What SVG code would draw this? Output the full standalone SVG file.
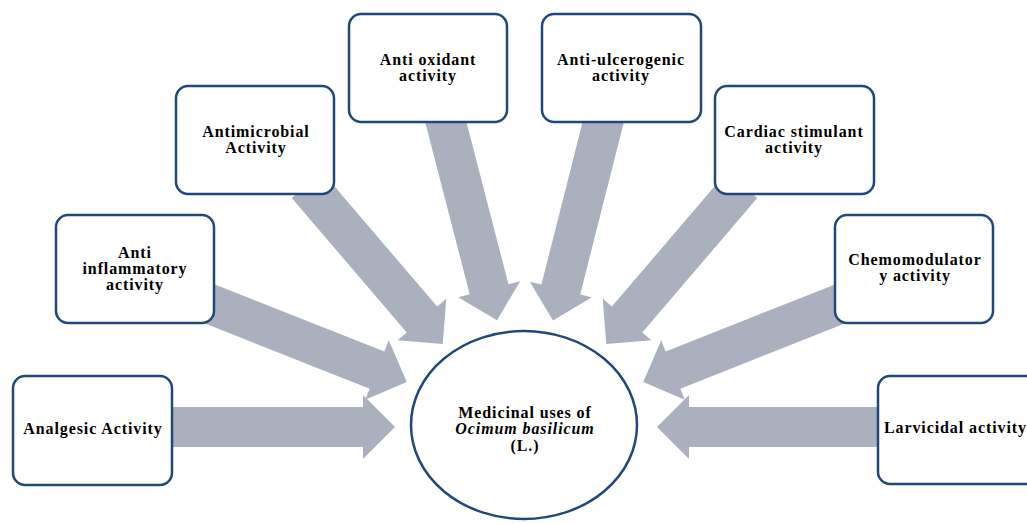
<svg xmlns="http://www.w3.org/2000/svg" width="1027" height="524" viewBox="0 0 1027 524">
<style>
.box{fill:#fff;stroke:#1f497d;stroke-width:2.5}
.arr{fill:#abb0be}
text{font-family:"Liberation Serif","Times New Roman","DejaVu Serif",serif;font-weight:bold;font-size:16px;letter-spacing:0.9px;fill:#000;text-anchor:middle}
.it{font-style:italic}
</style>
<defs>
<path id="a230" d="M0,-20 H198 V-32 L230,0 L198,32 V20 H0 Z"/>
<path id="a228" d="M0,-20 H196 V-32 L228,0 L196,32 V20 H0 Z"/>
<path id="a217" d="M0,-20 H185 V-32 L217,0 L185,32 V20 H0 Z"/>
<path id="a209" d="M0,-20 H177 V-32 L209,0 L177,32 V20 H0 Z"/>
<path id="a212" d="M0,-20 H180 V-32 L212,0 L180,32 V20 H0 Z"/>
</defs>
<rect width="1027" height="524" fill="#fff"/>
<g id="connectors" class="arr">
<use href="#a230" transform="translate(165,427)"/>
<use href="#a228" transform="translate(885,427) rotate(180)"/>
<use href="#a217" transform="translate(205,302) rotate(21.6)"/>
<use href="#a217" transform="translate(845,302) rotate(158.4)"/>
<use href="#a209" transform="translate(307,185) rotate(49.5)"/>
<use href="#a209" transform="translate(742,185) rotate(130.5)"/>
<use href="#a212" transform="translate(444,115) rotate(75.5)"/>
<use href="#a212" transform="translate(605,115) rotate(104.2)"/>
</g>
<g id="center">
<ellipse cx="524" cy="425" rx="113" ry="94" fill="#fff" stroke="#1f497d" stroke-width="2.5"/>
<text x="525" y="418">Medicinal uses of</text>
<text x="525" y="434" class="it">Ocimum basilicum</text>
<text x="525" y="451">(L.)</text>
</g>
<g id="analgesic">
<rect class="box" x="13" y="376" width="159" height="109" rx="12"/>
<text x="93" y="434">Analgesic Activity</text>
</g>
<g id="anti-inflammatory">
<rect class="box" x="56" y="215" width="158" height="108" rx="12"/>
<text x="135" y="258">Anti</text>
<text x="135" y="274">inflammatory</text>
<text x="135" y="290">activity</text>
</g>
<g id="antimicrobial">
<rect class="box" x="176" y="86" width="158" height="108" rx="12"/>
<text x="256" y="137">Antimicrobial</text>
<text x="256" y="153">Activity</text>
</g>
<g id="antioxidant">
<rect class="box" x="349" y="14" width="158" height="108" rx="12"/>
<text x="428" y="65">Anti oxidant</text>
<text x="428" y="81">activity</text>
</g>
<g id="anti-ulcerogenic">
<rect class="box" x="542" y="14" width="159" height="108" rx="12"/>
<text x="621" y="65">Anti-ulcerogenic</text>
<text x="621" y="81">activity</text>
</g>
<g id="cardiac">
<rect class="box" x="715" y="86" width="159" height="108" rx="12"/>
<text x="794" y="137">Cardiac stimulant</text>
<text x="794" y="153">activity</text>
</g>
<g id="chemomodulatory">
<rect class="box" x="835" y="215" width="158" height="108" rx="12"/>
<text x="915" y="265">Chemomodulator</text>
<text x="915" y="281">y activity</text>
</g>
<g id="larvicidal">
<rect class="box" x="878" y="376" width="170" height="108" rx="12"/>
<text x="884" y="433" style="text-anchor:start">Larvicidal activity</text>
</g>
</svg>
